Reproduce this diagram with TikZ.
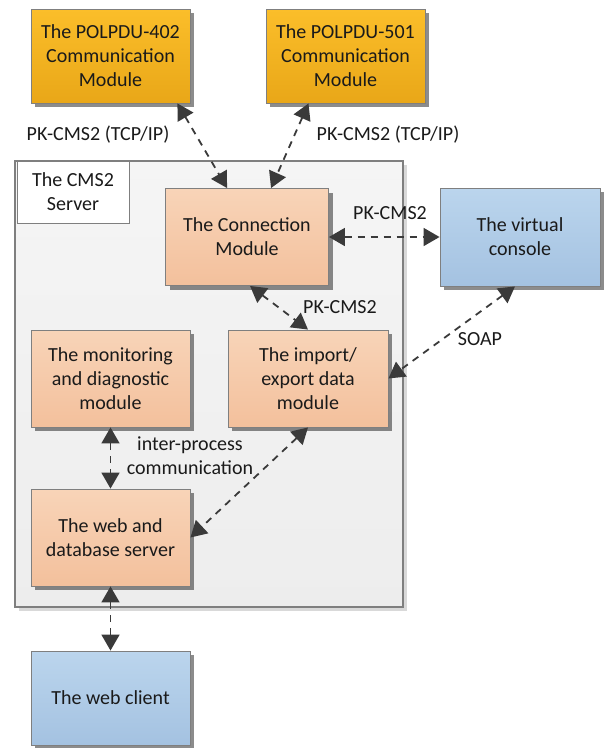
\documentclass[tikz,border=0pt]{standalone}
\usepackage{fontspec}
\setmainfont{Carlito}
\usetikzlibrary{arrows.meta,shadows}
\definecolor{goldtop}{HTML}{FBBE2A}
\definecolor{goldbot}{HTML}{E9A718}
\definecolor{peachtop}{HTML}{F8D4B8}
\definecolor{peachbot}{HTML}{F3C09C}
\definecolor{bluetop}{HTML}{BBD5ED}
\definecolor{bluebot}{HTML}{A4C2E1}
\definecolor{frame}{HTML}{7F7F7F}
\definecolor{linkgray}{HTML}{3A3A3A}
\definecolor{txt}{HTML}{1A1A1A}
\begin{document}
\begin{tikzpicture}
    [x=1pt, y=-1pt,
    every node/.style={text=txt, font=\fontsize{20}{24}\selectfont, align=center},
    box/.style={draw=frame, line width=0.9pt, minimum width=159pt, minimum height=97pt, inner sep=2pt,
        drop shadow={shadow xshift=4pt, shadow yshift=-4pt, fill=black, opacity=0.45}},
    gold/.style={box, top color=goldtop, bottom color=goldbot},
    peach/.style={box, top color=peachtop, bottom color=peachbot},
    blue/.style={box, top color=bluetop, bottom color=bluebot},
    link/.style={draw=linkgray, line width=1.8pt, dash pattern=on 7pt off 6pt, >={Triangle[length=16pt, width=18pt]}, <->}]
    \useasboundingbox (0,0) rectangle (604,748);
    % \draw[help lines] (0,0) grid[step=50] (604,748);
    \node[draw=frame, line width=1.3pt, top color=black!4, bottom color=black!7, minimum width=388pt, minimum height=446pt,
        drop shadow={shadow xshift=4pt, shadow yshift=-4pt, fill=black, opacity=0.15}] (server) at (209, 384) {};
    \node[draw=frame, line width=0.9pt, fill=white, minimum width=112pt, minimum height=62pt, inner sep=1pt] (srvlabel) at (73, 192) {The CMS2\\Server};
    %
    \node[gold, minimum height=94pt] (p402) at (110.5, 56) {The POLPDU-402\\Communication\\Module};
    \node[gold, minimum height=94pt] (p501) at (345.5, 56) {The POLPDU-501\\Communication\\Module};
    %
    \node[peach, minimum width=163pt] (conn) at (247, 237) {The Connection\\Module};
    \node[blue, minimum width=160pt, minimum height=98pt] (virt) at (520, 237) {The virtual\\console};
    \node[peach] (mon) at (110.5, 378.5) {The monitoring\\and diagnostic\\module};
    \node[peach, minimum width=160pt] (imp) at (308, 378.5) {The import/\\export data\\module};
    \node[peach] (web) at (110.5, 537.5) {The web and\\database server};
    \node[blue, minimum height=94pt] (client) at (110.5, 698) {The web client};
    %
    \node (tcp1) at (98, 135) {PK-CMS2 (TCP/IP)};
    \node (tcp2) at (388, 135) {PK-CMS2 (TCP/IP)};
    \node (pk1) at (390, 213) {PK-CMS2};
    \node (pk2) at (340, 307) {PK-CMS2};
    \node (soap) at (480, 339) {SOAP};
    \node (ipc) at (190, 456) {inter-process\\communication};
    %
    \draw[link] ([xshift=-13pt]p402.south east) -- ([xshift=62pt]conn.north west);
    \draw[link] ([xshift=-37pt]p501.south) -- ([xshift=106pt]conn.north west);
    \draw[link] (conn.east) -- (virt.west);
    \draw[link] ([xshift=85pt]conn.south west) -- (imp.north);
    \draw[link] ([xshift=-5pt]virt.south) -- (imp.east);
    \draw[link] (mon.south) -- (web.north);
    \draw[link] (imp.south) -- (web.east);
    \draw[link] (web.south) -- (client.north);
\end{tikzpicture}
\end{document}
